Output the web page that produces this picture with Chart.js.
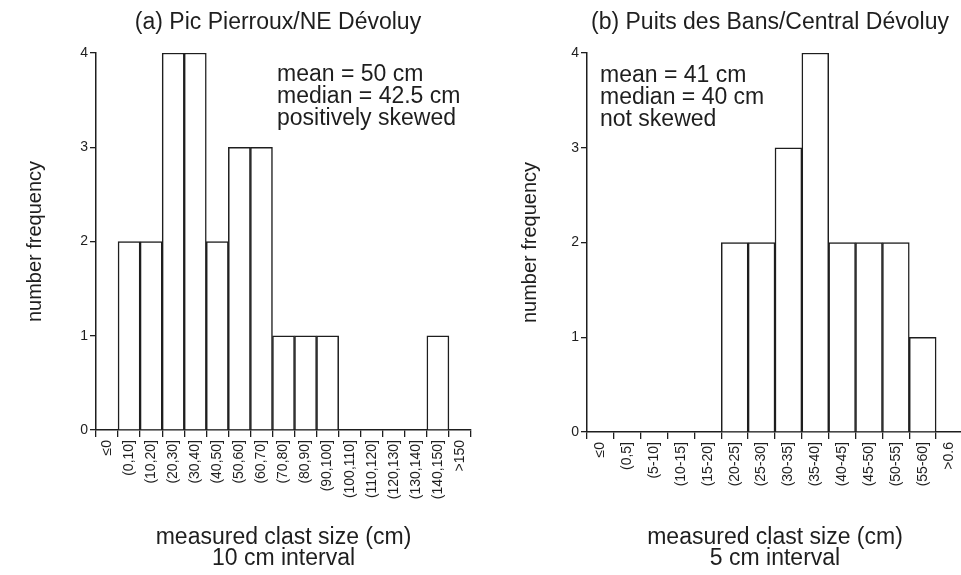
<!DOCTYPE html>
<html>
<head>
<meta charset="utf-8">
<script src="https://cdn.jsdelivr.net/npm/chart.js@4/dist/chart.umd.min.js"></script>
<style>
  html, body { margin: 0; padding: 0; background: #fff; overflow: hidden; }
  body { width: 961px; height: 575px; position: relative; }
  #wrapA { position: absolute; left: 0; top: 0; width: 480px; height: 575px; }
  #wrapB { position: absolute; left: 480px; top: 0; width: 490px; height: 575px; }
</style>
</head>
<body>
<div id="wrapA"><canvas id="histA"></canvas></div>
<div id="wrapB"><canvas id="histB"></canvas></div>
<script>
// data
const classesA = ['≤0', '(0,10]', '(10,20]', '(20,30]', '(30,40]', '(40,50]', '(50,60]', '(60,70]',
    '(70,80]', '(80,90]', '(90,100]', '(100,110]', '(110,120]', '(120,130]', '(130,140]', '(140,150]', '>150'];
const countsA = [0, 2, 2, 4, 4, 2, 3, 3, 1, 1, 1, 0, 0, 0, 0, 1, 0];

const classesB = ['≤0', '(0,5]', '(5-10]', '(10-15]', '(15-20]', '(20-25]', '(25-30]', '(30-35]',
    '(35-40]', '(40-45]', '(45-50]', '(50-55]', '(55-60]', '>0.6'];
const countsB = [0, 0, 0, 0, 0, 2, 2, 3, 4, 2, 2, 2, 1, 0];

const titleA = '(a) Pic Pierroux/NE Dévoluy';
const titleB = '(b) Puits des Bans/Central Dévoluy';
const notesA = ['mean = 50 cm', 'median = 42.5 cm', 'positively skewed'];
const notesB = ['mean = 41 cm', 'median = 40 cm', 'not skewed'];
const xTitleA = ['measured clast size (cm)', '10 cm interval'];
const xTitleB = ['measured clast size (cm)', '5 cm interval'];

const INK = '#1e1e1e';
Chart.defaults.font.family = '"Liberation Sans", Arial, Helvetica, sans-serif';
Chart.defaults.color = INK;

// heading + stats text
const textPlugin = {
    id: 'panelText',
    afterDraw(chart, args, opts) {
        const ctx = chart.ctx;
        ctx.save();
        ctx.fillStyle = INK;
        ctx.font = '23px "Liberation Sans", Arial, sans-serif';
        ctx.textBaseline = 'middle';
        ctx.textAlign = 'center';
        ctx.fillText(opts.title, opts.titleX, 23);
        ctx.textAlign = 'left';
        opts.notes.forEach((line, i) => ctx.fillText(line, opts.notesX, opts.notesY + i * 22));
        ctx.restore();
    }
};

function makeHist(id, classes, counts, xTitle, yWidth, yTitlePad, xHeight, padRight, text) {
    return new Chart(document.getElementById(id), {
        type: 'bar',
        data: {
            labels: classes,
            datasets: [{
                data: counts,
                backgroundColor: '#ffffff',
                borderColor: INK,
                borderWidth: 1.5,
                borderSkipped: 'start',
                barPercentage: 1,
                categoryPercentage: 1
            }]
        },
        options: {
            responsive: true,
            maintainAspectRatio: false,
            animation: false,
            layout: { padding: { left: 0, right: padRight, top: 53, bottom: 0 } },
            plugins: {
                legend: { display: false },
                tooltip: { enabled: false },
                panelText: text
            },
            scales: {
                x: {
                    grid: { drawOnChartArea: false, tickLength: 7, color: INK, lineWidth: 1.3, offset: true },
                    border: { color: INK, width: 1.5 },
                    ticks: { font: { size: 14 }, maxRotation: 90, minRotation: 90, padding: 3, autoSkip: false },
                    title: {
                        display: true,
                        text: xTitle,
                        font: { size: 23, lineHeight: 0.95 },
                        padding: { top: 0, bottom: 5 }
                    },
                    afterFit: s => { s.height = xHeight; }
                },
                y: {
                    min: 0,
                    max: 4,
                    grid: { drawOnChartArea: false, tickLength: 6, color: INK, lineWidth: 1.3 },
                    border: { color: INK, width: 1.5 },
                    ticks: { stepSize: 1, font: { size: 14 }, padding: 2 },
                    title: {
                        display: true,
                        text: 'number frequency',
                        font: { size: 20, lineHeight: 1.2 },
                        padding: { top: yTitlePad, bottom: 0 }
                    },
                    afterFit: s => { s.width = yWidth; }
                }
            }
        },
        plugins: [textPlugin]
    });
}

makeHist('histA', classesA, countsA, xTitleA, 96, 23, 145, 8,
    { title: titleA, titleX: 278, notes: notesA, notesX: 277, notesY: 75 });
makeHist('histB', classesB, countsB, xTitleB, 107, 38, 143, 7,
    { title: titleB, titleX: 290, notes: notesB, notesX: 120, notesY: 76 });
</script>
</body>
</html>
